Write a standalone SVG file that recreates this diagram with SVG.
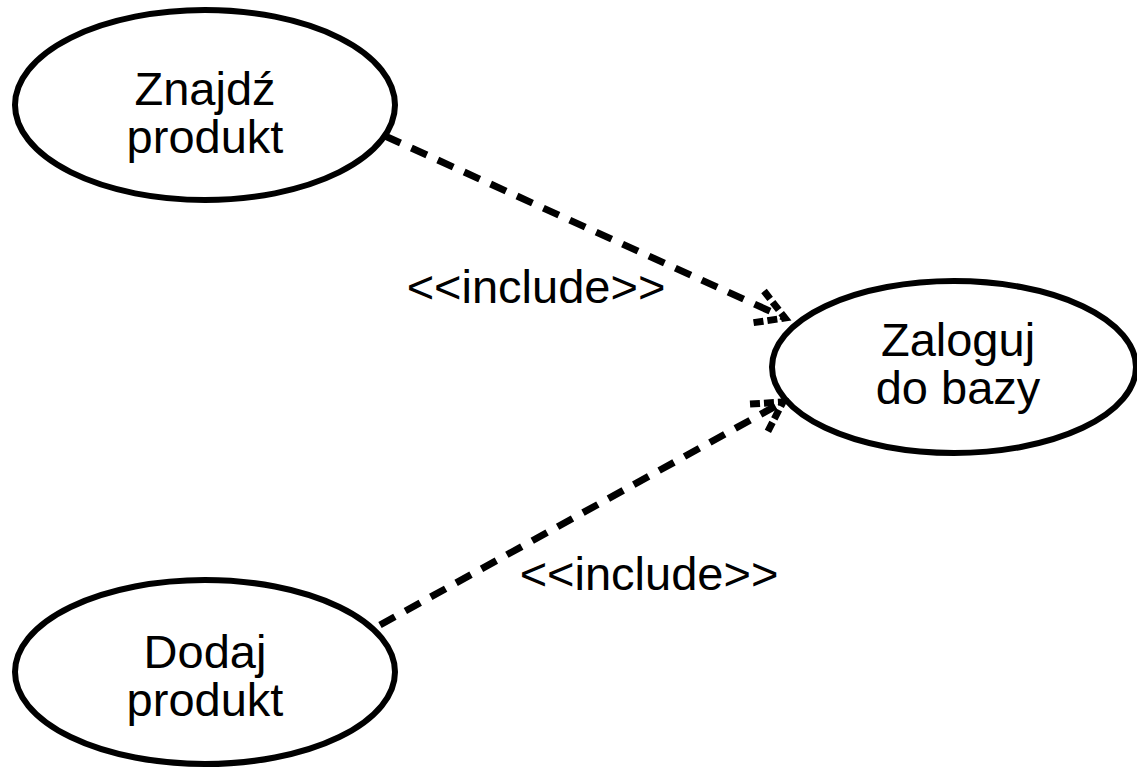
<svg xmlns="http://www.w3.org/2000/svg" width="1137" height="768" viewBox="0 0 1137 768">
  <style>
    .uc { fill: #fff; stroke: #000; stroke-width: 6; }
    .lbl { font-family: "Liberation Sans", Arial, sans-serif; font-size: 47px; fill: #000; text-anchor: middle; }
    .dep { fill: none; stroke: #000; stroke-width: 7; stroke-dasharray: 17 12; }
    .head { fill: none; stroke: #000; stroke-width: 7; stroke-dasharray: 10 4; stroke-linecap: butt; }
  </style>
  <rect width="1137" height="768" fill="#fff"/>

  <g id="uc-znajdz">
    <ellipse class="uc" cx="205" cy="105" rx="190" ry="95"/>
    <text class="lbl" x="205" y="105">Znajdź</text>
    <text class="lbl" x="205" y="153">produkt</text>
  </g>

  <g id="uc-dodaj">
    <ellipse class="uc" cx="205" cy="672" rx="190" ry="92"/>
    <text class="lbl" x="205" y="668">Dodaj</text>
    <text class="lbl" x="205" y="716">produkt</text>
  </g>

  <g id="uc-zaloguj">
    <ellipse class="uc" cx="954" cy="367" rx="182" ry="86"/>
    <text class="lbl" x="958" y="356">Zaloguj</text>
    <text class="lbl" x="958" y="404">do bazy</text>
  </g>

  <g id="connectors">
    <path class="dep" d="M385 136 L785 318"/>
    <path class="head" d="M764 291 L785 318 L751 323"/>
    <text class="lbl" x="536" y="303">&lt;&lt;include&gt;&gt;</text>

    <path class="dep" d="M380 625 L783 402"/>
    <path class="head" d="M750 404 L783 402 L767 433"/>
    <text class="lbl" x="649" y="590">&lt;&lt;include&gt;&gt;</text>
  </g>
</svg>
